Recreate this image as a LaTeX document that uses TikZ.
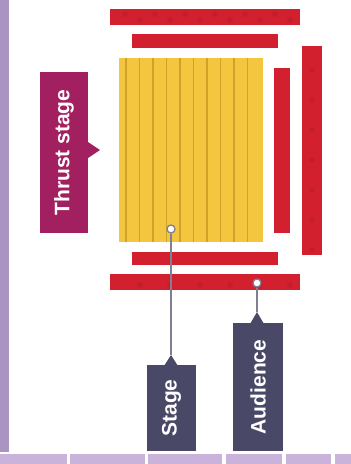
\documentclass[tikz,border=0pt]{standalone}
\usepackage{fontspec}
\setmainfont{Liberation Sans}
\usetikzlibrary{calc}

\definecolor{sidebar}{HTML}{A994C2}
\definecolor{footbar}{HTML}{C9B3DB}
\definecolor{seatred}{HTML}{D2202F}
\definecolor{seatdot}{HTML}{B81A2A}
\definecolor{stageyel}{HTML}{F4C53E}
\definecolor{stageline}{HTML}{D1A12B}
\definecolor{thrustcol}{HTML}{A2205F}
\definecolor{navybox}{HTML}{4A4867}
\definecolor{pinline}{HTML}{808090}

\begin{document}
\begin{tikzpicture}[x=1pt, y=-1pt,
    seats/.style={fill=seatred},
    tag/.style={rectangle, inner sep=0pt, rotate=90, text=white,
        font=\bfseries\fontsize{21}{21}\selectfont},
    pin/.style={circle, draw=pinline, line width=1.3pt, fill=white,
        inner sep=0pt, minimum size=8pt},
    pinwire/.style={draw=pinline, line width=1.4pt}
]
    \useasboundingbox (0,0) rectangle (351,464);
    % frame strips
    \fill[sidebar] (0,0) rectangle (9,452);
    \foreach \a/\b in {0/67, 70/145, 148/222, 226/282, 286/331, 335/351}
        \fill[footbar] (\a,454) rectangle (\b,464);

    % audience seating
    \fill[seats] (110,9) rectangle (300,25);
    \fill[seats] (132,34) rectangle (278,48);
    \fill[seats] (132,252) rectangle (278,265);
    \fill[seats] (110,274) rectangle (300,290);
    \fill[seats] (274,68) rectangle (290,233);
    \fill[seats] (302,46) rectangle (322,255);
    \foreach \x in {140,170,...,290} {
        \fill[seatdot, opacity=.45] (\x,20) circle (3);
        \fill[seatdot, opacity=.45] (\x-15,14) circle (3);
        \fill[seatdot, opacity=.45] (\x,285) circle (3);
    }
    \foreach \y in {70,100,...,250}
        \fill[seatdot, opacity=.45] (312,\y) circle (3);

    % stage boards
    \fill[stageyel] (119,58) rectangle (263,242);
    \foreach \x in {126,139.5,...,250}
        \draw[stageline, line width=1.2pt] (\x,58) -- (\x,242);

    % labels
    \node[tag, fill=thrustcol, minimum width=161, minimum height=48]
        (thrust) at (64,152.5) {Thrust stage};
    \fill[thrustcol] (88,142) -- (100,150) -- (88,158) -- cycle;

    \node[pin] (stagedot) at (171,229) {};
    \node[tag, fill=navybox, minimum width=86, minimum height=49]
        (stage) at (171.5,408) {Stage};
    \coordinate (stagetip) at (171,355);
    \fill[navybox] (164,366) -- (stagetip) -- (178,366) -- cycle;
    \draw[pinwire] (stagedot) -- (stagetip);

    \node[pin] (audiencedot) at (257,283) {};
    \node[tag, fill=navybox, minimum width=128, minimum height=50]
        (audience) at (258,387) {Audience};
    \coordinate (audiencetip) at (257,312);
    \fill[navybox] (250,324) -- (audiencetip) -- (264,324) -- cycle;
    \draw[pinwire] (audiencedot) -- (audiencetip);
\end{tikzpicture}
\end{document}
